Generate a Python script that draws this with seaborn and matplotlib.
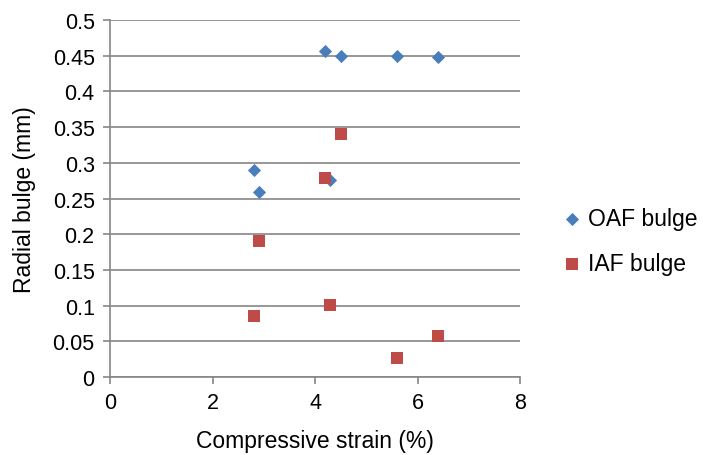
import matplotlib
matplotlib.use("Agg")
import matplotlib.pyplot as plt
import seaborn as sns
import pandas as pd

strain = [2.8, 2.9, 4.2, 4.3, 4.5, 5.6, 6.4]
oaf_bulge = [0.290, 0.259, 0.457, 0.276, 0.449, 0.450, 0.448]
iaf_bulge = [0.086, 0.190, 0.279, 0.101, 0.340, 0.027, 0.058]
series_names = ["OAF bulge", "IAF bulge"]
x_ticks = [0, 2, 4, 6, 8]
y_ticks = [0, 0.05, 0.1, 0.15, 0.2, 0.25, 0.3, 0.35, 0.4, 0.45, 0.5]
y_tick_labels = ["0", "0.05", "0.1", "0.15", "0.2", "0.25", "0.3", "0.35", "0.4", "0.45", "0.5"]

oaf_df = pd.DataFrame({"strain": strain, "bulge": oaf_bulge})
iaf_df = pd.DataFrame({"strain": strain, "bulge": iaf_bulge})

sns.set_style("white")
plt.rcParams['font.family'] = ['Liberation Sans', 'DejaVu Sans']
plt.rcParams['text.color'] = 'black'
plt.rcParams['axes.labelcolor'] = 'black'

fig = plt.figure(figsize=(7.03, 4.56), dpi=100)
ax = fig.add_axes([110/703, 1 - 378/456, (520-110)/703, (378-21)/456])

sns.scatterplot(data=oaf_df, x="strain", y="bulge", marker="D", color="#4a7ebb",
                s=45, linewidth=0, ax=ax, zorder=3, label=series_names[0])
sns.scatterplot(data=iaf_df, x="strain", y="bulge", marker="s", color="#be4b48",
                s=75, linewidth=0, ax=ax, zorder=3, label=series_names[1])

ax.set_xlim(0, 8)
ax.set_ylim(0, 0.5)
ax.set_xticks(x_ticks)
ax.set_yticks(y_ticks)
ax.set_xticklabels([str(t) for t in x_ticks])
ax.set_yticklabels(y_tick_labels)
ax.grid(axis="y", color="#868686", linewidth=1.2)
ax.set_axisbelow(True)
for s in ["top", "right"]:
    ax.spines[s].set_visible(False)
for s in ["left", "bottom"]:
    ax.spines[s].set_color("#868686")
    ax.spines[s].set_linewidth(1.2)
ax.tick_params(axis="both", direction="out", length=5, width=1.2, color="#868686",
               labelsize=15.5, labelcolor="black", bottom=True, left=True, pad=6)
ax.set_xlabel("Compressive strain (%)", fontsize=16.5, labelpad=11, color="black")
ax.set_ylabel("Radial bulge (mm)", fontsize=16.5, labelpad=12, color="black")

handles, labels = ax.get_legend_handles_labels()
leg = ax.legend(handles, labels, loc="center left", bbox_to_anchor=(1.105, 0.38),
                frameon=False, fontsize=16.5, handletextpad=0.3, labelspacing=0.95,
                handlelength=0.8, borderaxespad=0, borderpad=0)
for t in leg.get_texts():
    t.set_color("black")

fig.savefig("out.png", dpi=100)
